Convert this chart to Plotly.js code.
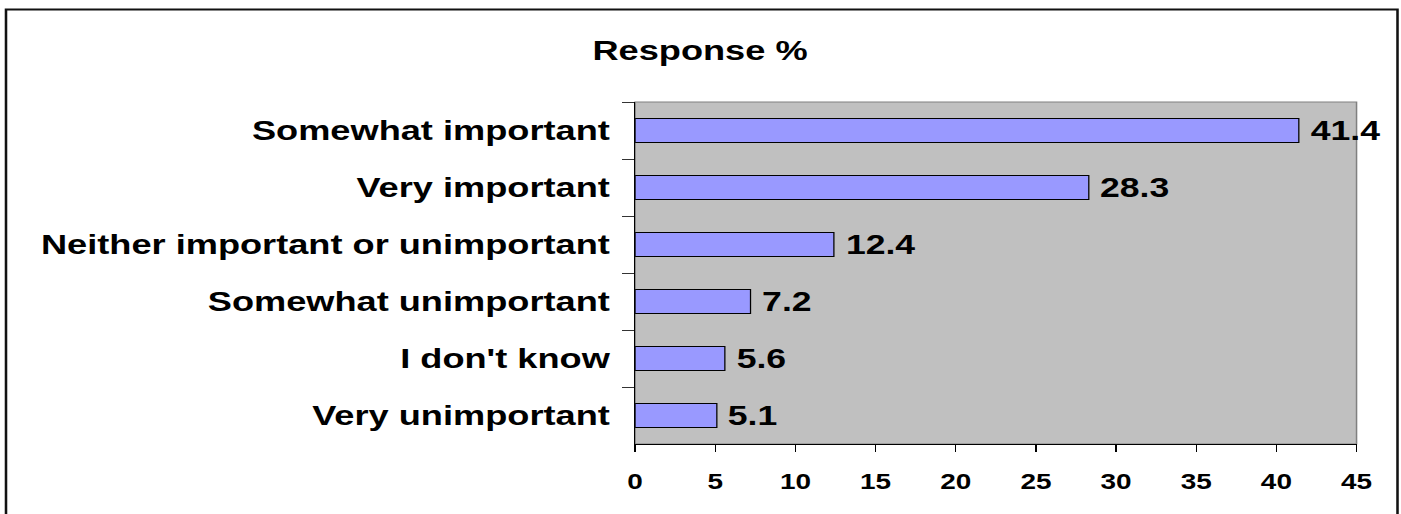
<!DOCTYPE html>
<html>
<head>
<meta charset="utf-8">
<script src="https://cdn.plot.ly/plotly-3.0.1.min.js"></script>
<style>
  html, body { margin: 0; padding: 0; background: #fff; overflow: hidden; }
  #chart { transform-origin: 0 0; }
</style>
</head>
<body>
<div id="chart"></div>
<script>
// Survey answers, listed top to bottom
const categories = [
  "Somewhat important",
  "Very important",
  "Neither important or unimportant",
  "Somewhat unimportant",
  "I don't know",
  "Very unimportant"
];
const responsePct = [41.4, 28.3, 12.4, 7.2, 5.6, 5.1];
const xTickValues = [0, 5, 10, 15, 20, 25, 30, 35, 40, 45];
const chartTitle = "Response %";

// The chart is laid out narrow and then widened by STRETCH,
// which gives the broad lettering and heavier upright strokes.
const STRETCH = 1.27;
const OUT_W = 1401, H = 514;
const W = Math.round(OUT_W / STRETCH);
const M = { l: 500, r: W - 1068, t: 102, b: 70 };
const plotW = W - M.l - M.r, plotH = H - M.t - M.b;
const FONT = "Liberation Sans, Arial, sans-serif";

const el = document.getElementById("chart");
el.style.width = W + "px";
el.style.height = H + "px";
el.style.transform = "scaleX(" + (OUT_W / W) + ")";

// on-screen pixel -> paper conversion for the outer frame
const px = v => (v * W / OUT_W - M.l) / plotW;
const py = v => (H - M.b - v) / plotH;

const trace = {
  type: "bar",
  orientation: "h",
  y: categories,
  x: responsePct,
  marker: { color: "#9999FF", line: { color: "#000", width: 1 } },
  hoverinfo: "skip"
};

const labels = categories.map((c, i) => ({
  x: responsePct[i], y: c, xref: "x", yref: "y",
  text: String(responsePct[i]),
  showarrow: false, xanchor: "left", yanchor: "middle", xshift: 7,
  font: { family: FONT, size: 28, weight: 700, color: "#000" }
}));

const layout = {
  width: W, height: H,
  margin: M,
  paper_bgcolor: "rgba(0,0,0,0)",
  plot_bgcolor: "#C0C0C0",
  showlegend: false,
  bargap: 0.58,
  title: {
    text: chartTitle,
    x: 700 / OUT_W, xref: "container", xanchor: "center",
    y: 1 - 50 / H, yref: "container", yanchor: "middle",
    font: { family: FONT, size: 28.5, weight: 700, color: "#000" }
  },
  xaxis: {
    range: [0, 45], tickvals: xTickValues,
    showgrid: false, zeroline: false,
    showline: true, linecolor: "#000", linewidth: 1,
    ticks: "outside", ticklen: 7, tickcolor: "#000", tickwidth: 1,
    ticklabelstandoff: 11,
    tickfont: { family: FONT, size: 22, weight: 700, color: "#000" },
    fixedrange: true
  },
  yaxis: {
    type: "category", autorange: "reversed",
    showgrid: false, zeroline: false,
    showline: true, linecolor: "#000", linewidth: 1.2,
    ticks: "outside", tickson: "boundaries", ticklen: 9, tickcolor: "#333", tickwidth: 1,
    ticklabelstandoff: 13,
    tickfont: { family: FONT, size: 28.5, weight: 700, color: "#000" },
    fixedrange: true
  },
  shapes: [
    { type: "rect", xref: "paper", yref: "paper", x0: 0, x1: 1, y0: 0, y1: 1,
      layer: "below", line: { color: "#808080", width: 1.2 } },
    { type: "rect", xref: "paper", yref: "paper",
      x0: px(6), x1: px(1397.5), y0: py(H + 10), y1: py(9.5),
      line: { color: "#111", width: 2 } }
  ],
  annotations: labels
};

Plotly.newPlot("chart", [trace], layout, { staticPlot: true, displayModeBar: false });
</script>
</body>
</html>
